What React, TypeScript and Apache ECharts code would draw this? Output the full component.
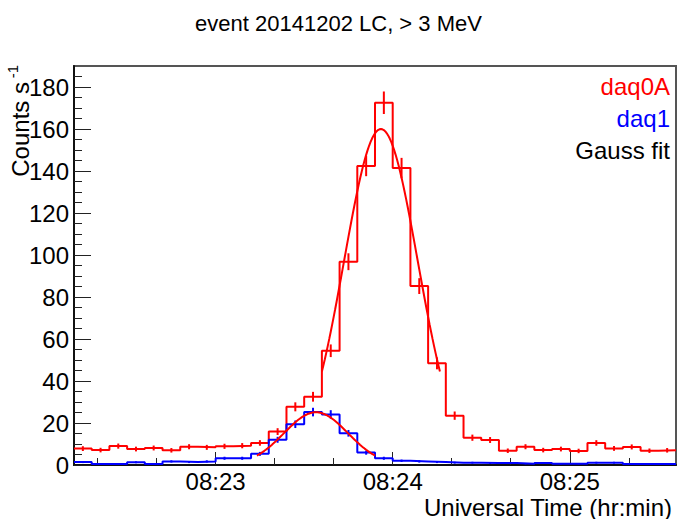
import React, { useEffect, useRef } from "react";
import * as echarts from "echarts";

const FONT = "'Liberation Sans', Arial, Helvetica, sans-serif";

const chartTitle = "event 20141202 LC, > 3 MeV";
const xTitle = "Universal Time (hr:min)";
const yTitleMain = "Counts s";
const yTitleSup = "-1";
const legendNames = ["daq0A", "daq1", "Gauss fit"];
const legendColors = ["#ff0000", "#0000ff", "#000000"];

const xRange = ["08:22:12", "08:25:36"];
const binWidthSec = 6;
const xMajorTicks = ["08:23", "08:24", "08:25"];
const xMinorTicks = ["08:22:20", "08:22:40", "08:23:20", "08:23:40", "08:24:20", "08:24:40", "08:25:20"];
const yRange = [0, 190];
const yMajorTicks = [0, 20, 40, 60, 80, 100, 120, 140, 160, 180];
const yMinorTicks = [5, 10, 15, 25, 30, 35, 45, 50, 55, 65, 70, 75, 85, 90, 95, 105, 110, 115, 125, 130, 135, 145, 150, 155, 165, 170, 175, 185];

// count rates per 6 s bin, first bin starts at 08:22:12
const daq0A = [
  7.8, 7.1, 9.0, 7.6, 8.1, 7.0, 8.7, 8.4, 8.9, 9.2,
  10.5, 15.9, 27.7, 32.5, 54.4, 96.8, 142.4, 172.5, 141.4, 85.2,
  48.4, 23.5, 13.0, 11.9, 6.8, 8.7, 7.1, 7.6, 6.7, 10.5,
  7.9, 8.6, 6.8, 7.0,
];
const daq1 = [
  1.4, 0.5, 0.5, 1.3, 0.5, 1.7, 1.4, 1.7, 3.2, 3.2,
  5.3, 12.0, 19.4, 25.2, 24.1, 15.1, 5.9, 3.2, 2.0, 1.7,
  1.4, 1.1, 1.1, 0.9, 0.9, 0.6, 1.0, 0.6, 0.6, 1.1,
  1.1, 0.5, 0.5, 0.5,
];

// Gaussian fit parameters and fit ranges
const fitDaq0AParams = { amplitude: 160, mean: "08:23:56", sigmaSec: 12.5 };
const fitDaq0ARange = ["08:23:36", "08:24:16"];
const fitDaq1Params = { amplitude: 25.1, mean: "08:23:34", sigmaSec: 10.8 };
const fitDaq1Range = ["08:23:14", "08:23:54"];

const toSec = (s: string) => {
  const p = s.split(":").map(Number);
  return p[0] * 3600 + p[1] * 60 + (p[2] || 0);
};
const pad = (n: number) => (n < 10 ? "0" + n : "" + n);
const fmt = (v: number) => pad(Math.floor(v / 3600)) + ":" + pad(Math.floor((v % 3600) / 60));

const t0 = toSec(xRange[0]);

function histLine(vals: number[]) {
  const d: number[][] = vals.map((v, i) => [t0 + i * binWidthSec, v]);
  d.push([t0 + vals.length * binWidthSec, vals[vals.length - 1]]);
  return d;
}
function errBars(vals: number[]) {
  return vals.map((v, i) => [t0 + (i + 0.5) * binWidthSec, v, Math.sqrt(v * binWidthSec) / binWidthSec]);
}
function fitCurve(p: { amplitude: number; mean: string; sigmaSec: number }, range: string[]) {
  const a = toSec(range[0]);
  const b = toSec(range[1]);
  const m = toSec(p.mean);
  const out: number[][] = [];
  for (let t = a; t <= b + 1e-9; t += 0.5) {
    out.push([t, p.amplitude * Math.exp(-0.5 * ((t - m) / p.sigmaSec) ** 2)]);
  }
  return out;
}

function errSeries(vals: number[], color: string) {
  return {
    type: "custom",
    data: errBars(vals),
    z: 3,
    renderItem: (_params: any, api: any) => {
      const x = api.value(0);
      const y = api.value(1);
      const e = api.value(2);
      const p1 = api.coord([x, y - e]);
      const p2 = api.coord([x, y + e]);
      return {
        type: "line",
        shape: { x1: p1[0], y1: p1[1], x2: p2[0], y2: p2[1] },
        style: { stroke: color, lineWidth: 2 },
      };
    },
  };
}

function txt(text: string, x: number, y: number, size: number, fill: string, rotation = 0) {
  return {
    type: "text",
    x,
    y,
    rotation,
    z: 100,
    style: {
      text,
      fill,
      fontFamily: FONT,
      fontSize: size,
      lineHeight: size,
      align: "right",
      verticalAlign: "middle",
      textAlign: "right",
      textVerticalAlign: "middle",
    },
  };
}

export default function App() {
  const ref = useRef<HTMLDivElement>(null);
  useEffect(() => {
    if (!ref.current) return;
    const chart = echarts.init(ref.current, undefined, { renderer: "svg" });
    const labelStyle = { fontFamily: FONT, fontSize: 24, lineHeight: 20, color: "#000" };
    const option: any = {
      animation: false,
      backgroundColor: "#fff",
      title: {
        text: chartTitle,
        left: "center",
        top: 7,
        textStyle: { fontFamily: FONT, fontSize: 22, fontWeight: "normal", color: "#000" },
      },
      grid: {
        left: 74,
        right: 1,
        top: 66,
        bottom: 54,
        show: true,
        borderColor: "#555",
        borderWidth: 2,
        backgroundColor: "transparent",
      },
      xAxis: [
        {
          type: "value",
          min: t0,
          max: toSec(xRange[1]),
          axisLine: { show: true, onZero: false, lineStyle: { color: "#111", width: 2 } },
          axisTick: {
            show: true,
            inside: true,
            length: 13,
            customValues: xMajorTicks.map(toSec),
            lineStyle: { color: "#222", width: 1 },
          },
          axisLabel: {
            ...labelStyle,
            margin: 6,
            customValues: xMajorTicks.map(toSec),
            formatter: (v: number) => fmt(v),
          },
          splitLine: { show: false },
        },
        {
          type: "value",
          min: t0,
          max: toSec(xRange[1]),
          position: "bottom",
          axisLine: { show: false },
          axisTick: {
            show: true,
            inside: true,
            length: 7,
            customValues: xMinorTicks.map(toSec),
            lineStyle: { color: "#222", width: 1 },
          },
          axisLabel: { show: false },
          splitLine: { show: false },
        },
      ],
      yAxis: [
        {
          type: "value",
          min: yRange[0],
          max: yRange[1],
          axisLine: { show: true, onZero: false, lineStyle: { color: "#111", width: 2 } },
          axisTick: {
            show: true,
            inside: true,
            length: 17,
            customValues: yMajorTicks,
            lineStyle: { color: "#222", width: 1 },
          },
          axisLabel: { ...labelStyle, margin: 5, customValues: yMajorTicks },
          splitLine: { show: false },
        },
        {
          type: "value",
          min: yRange[0],
          max: yRange[1],
          position: "left",
          axisLine: { show: false },
          axisTick: {
            show: true,
            inside: true,
            length: 8,
            customValues: yMinorTicks,
            lineStyle: { color: "#222", width: 1 },
          },
          axisLabel: { show: false },
          splitLine: { show: false },
        },
      ],
      series: [
        {
          type: "line",
          step: "end",
          data: histLine(daq0A),
          showSymbol: false,
          symbol: "none",
          lineStyle: { color: "#ff0000", width: 2 },
          z: 2,
        },
        errSeries(daq0A, "#ff0000"),
        {
          type: "line",
          step: "end",
          data: histLine(daq1),
          showSymbol: false,
          symbol: "none",
          lineStyle: { color: "#0000ff", width: 2 },
          z: 4,
        },
        errSeries(daq1, "#0000ff"),
        {
          type: "line",
          data: fitCurve(fitDaq0AParams, fitDaq0ARange),
          showSymbol: false,
          symbol: "none",
          lineStyle: { color: "#ff0000", width: 2 },
          z: 6,
        },
        {
          type: "line",
          data: fitCurve(fitDaq1Params, fitDaq1Range),
          showSymbol: false,
          symbol: "none",
          lineStyle: { color: "#ff0000", width: 2 },
          z: 6,
        },
      ],
      graphic: [
        ...legendNames.map((n, i) => txt(n, 670, 86 + i * 32, 24, legendColors[i])),
        txt(xTitle, 672, 507, 24, "#000"),
        txt(yTitleMain, 20, 82, 24, "#000", Math.PI / 2),
        txt(yTitleSup, 12, 65, 15, "#000", Math.PI / 2),
      ],
    };
    chart.setOption(option);
    return () => chart.dispose();
  }, []);
  return (
    <div
      ref={ref}
      style={{ position: "absolute", left: 0, top: 0, width: 677, height: 519 }}
    />
  );
}
